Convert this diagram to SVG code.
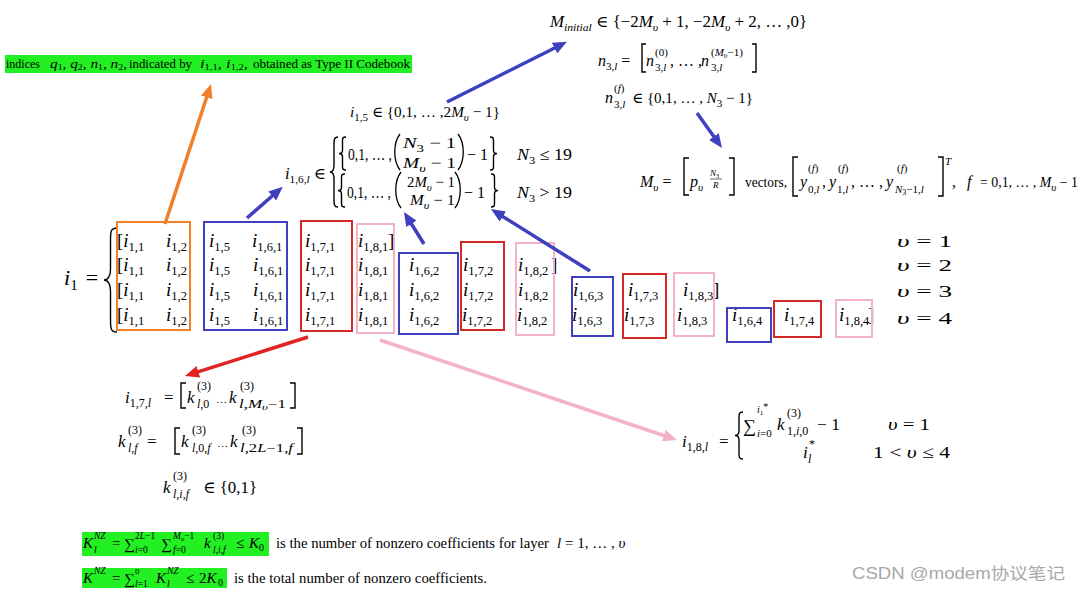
<svg xmlns="http://www.w3.org/2000/svg" width="1082" height="592" viewBox="0 0 1082 592">
<style>
.t{font-family:"Liberation Serif","Times New Roman","DejaVu Serif",serif;fill:#000}
.m{font-size:16px}
.it{font-style:italic}
.s{font-size:11px}
.e{font-size:19px}
.es{font-size:12.5px}
.box{fill:none;stroke-width:2}
.bo{stroke:#F07F2A}.bb{stroke:#3E40BD}.brd{stroke:#D42A2A}.bp{stroke:#F4B2C8}
.ar{fill:none;stroke-width:3.5}
.gr{fill:#22F022}
.wm{font-family:"Liberation Sans","Noto Sans CJK SC",sans-serif;font-size:16px;fill:#a8a8a8}
</style>
<defs>
<path id="lb" d="M10,0 C5,0 5,4 5,12 L5,40 C5,46 3,50 0,50 C3,50 5,54 5,60 L5,88 C5,96 5,100 10,100" fill="none" stroke="#000" stroke-width="1.4" vector-effect="non-scaling-stroke"/>
<path id="lp" d="M6,0 C-1,25 -1,75 6,100" fill="none" stroke="#000" stroke-width="1.3" vector-effect="non-scaling-stroke"/>
<path id="lk" d="M5,0 L0,0 L0,100 L5,100" fill="none" stroke="#000" stroke-width="1.4" vector-effect="non-scaling-stroke"/>
<marker id="ah-o" markerWidth="14" markerHeight="12" refX="3" refY="6" orient="auto" markerUnits="userSpaceOnUse"><path d="M0,0 L14,6 L0,12 Z" fill="#F07F2A"/></marker>
<marker id="ah-b" markerWidth="14" markerHeight="12" refX="3" refY="6" orient="auto" markerUnits="userSpaceOnUse"><path d="M0,0 L14,6 L0,12 Z" fill="#3E40BD"/></marker>
<marker id="ah-r" markerWidth="14" markerHeight="12" refX="3" refY="6" orient="auto" markerUnits="userSpaceOnUse"><path d="M0,0 L14,6 L0,12 Z" fill="#E02424"/></marker>
<marker id="ah-p" markerWidth="14" markerHeight="12" refX="3" refY="6" orient="auto" markerUnits="userSpaceOnUse"><path d="M0,0 L14,6 L0,12 Z" fill="#F4B2C8"/></marker>
</defs>
<rect width="1082" height="592" fill="#fff"/>

<g id="label-codebook">
<rect class="gr" x="5" y="55" width="407" height="18"/>
<text class="t" font-size="12.5" x="6" y="68" textLength="34" lengthAdjust="spacingAndGlyphs">indices</text>
<text class="t" font-size="12.5" x="50" y="68" textLength="77" lengthAdjust="spacingAndGlyphs"><tspan class="it">q</tspan><tspan font-size="8" dy="2">1</tspan><tspan dy="-2">, </tspan><tspan class="it">q</tspan><tspan font-size="8" dy="2">2</tspan><tspan dy="-2">, </tspan><tspan class="it">n</tspan><tspan font-size="8" dy="2">1</tspan><tspan dy="-2">,  </tspan><tspan class="it">n</tspan><tspan font-size="8" dy="2">2</tspan><tspan dy="-2">,</tspan></text>
<text class="t" font-size="12.5" x="129" y="68" textLength="63" lengthAdjust="spacingAndGlyphs">indicated by</text>
<text class="t" font-size="12.5" x="200" y="68" textLength="48" lengthAdjust="spacingAndGlyphs"><tspan class="it">i</tspan><tspan font-size="8" dy="2">1,1</tspan><tspan dy="-2">,  </tspan><tspan class="it">i</tspan><tspan font-size="8" dy="2">1,2</tspan><tspan dy="-2">,</tspan></text>
<text class="t" font-size="12.5" x="253" y="68" textLength="157" lengthAdjust="spacingAndGlyphs">obtained as Type II Codebook</text>
</g>

<g id="m-initial">
<text class="t m" x="550" y="27" textLength="257" lengthAdjust="spacingAndGlyphs"><tspan class="it">M</tspan><tspan class="s it" dy="4">initial</tspan><tspan dy="-4"> ∈ {−2</tspan><tspan class="it">M</tspan><tspan class="s it" dy="4">υ</tspan><tspan dy="-4"> + 1, −2</tspan><tspan class="it">M</tspan><tspan class="s it" dy="4">υ</tspan><tspan dy="-4"> + 2, … ,0}</tspan></text>
</g>

<g id="n3l">
<text class="t m" x="598" y="66"><tspan class="it">n</tspan><tspan class="s" dy="4">3,</tspan><tspan class="s it">l</tspan><tspan dy="-4"> =</tspan></text>
<use href="#lk" transform="translate(642,44) scale(0.8,0.28)"/>
<text class="t m it" x="646" y="66">n</text>
<text class="t s" x="655" y="56">(0)</text>
<text class="t s" x="655" y="71">3,<tspan class="it">l</tspan></text>
<text class="t m" x="670" y="66">, … ,</text>
<text class="t m it" x="701" y="66">n</text>
<text class="t s" x="711" y="56">(<tspan class="it">M</tspan><tspan class="it" font-size="8" dy="2">υ</tspan><tspan dy="-2">−1)</tspan></text>
<text class="t s" x="711" y="71">3,<tspan class="it">l</tspan></text>
<use href="#lk" transform="translate(756,44) scale(-0.8,0.28)"/>
</g>

<g id="n3lf">
<text class="t m it" x="605" y="103">n</text>
<text class="t s" x="614" y="92">(<tspan class="it">f</tspan>)</text>
<text class="t s" x="614" y="108">3,<tspan class="it">l</tspan></text>
<text class="t" font-size="15" x="632" y="103" textLength="121" lengthAdjust="spacingAndGlyphs">∈ {0,1, … , <tspan class="it">N</tspan><tspan class="s" dy="4">3</tspan><tspan dy="-4"> − 1}</tspan></text>
</g>

<g id="mv">
<text class="t m" x="640" y="187"><tspan class="it">M</tspan><tspan class="s it" dy="4">υ</tspan><tspan dy="-4"> =</tspan></text>
<use href="#lk" transform="translate(684,158) scale(1,0.37)"/>
<text class="t m it" x="690" y="187">p</text>
<text class="t s it" x="698" y="191">υ</text>
<text class="t it" font-size="9" x="710" y="176">N<tspan font-size="6" font-style="normal" dy="2">3</tspan></text>
<line x1="710" y1="179" x2="722" y2="179" stroke="#000" stroke-width="0.6"/>
<text class="t it" font-size="9" x="713" y="188">R</text>
<use href="#lk" transform="translate(734,158) scale(-1,0.37)"/>
<text class="t" font-size="15" x="745" y="187" textLength="42" lengthAdjust="spacingAndGlyphs">vectors,</text>
<use href="#lk" transform="translate(793,157) scale(1,0.39)"/>
<text class="t m it" x="800" y="187">y</text>
<text class="t s" x="808" y="172">(<tspan class="it">f</tspan>)</text>
<text class="t s" x="808" y="193">0,<tspan class="it">l</tspan></text>
<text class="t m" x="822" y="187">,</text>
<text class="t m it" x="829" y="187">y</text>
<text class="t s" x="838" y="172">(<tspan class="it">f</tspan>)</text>
<text class="t s" x="837" y="193">1,<tspan class="it">l</tspan></text>
<text class="t m" x="851" y="187">, … ,</text>
<text class="t m it" x="886" y="187">y</text>
<text class="t s" x="897" y="172">(<tspan class="it">f</tspan>)</text>
<text class="t s" x="895" y="193"><tspan class="it">N</tspan><tspan font-size="8" dy="2">3</tspan><tspan dy="-2">−1,</tspan><tspan class="it">l</tspan></text>
<use href="#lk" transform="translate(943,157) scale(-1,0.39)"/>
<text class="t s it" x="945" y="165">T</text>
<text class="t m" x="952" y="187">,</text>
<text class="t m it" x="967" y="187">f</text>
<text class="t" font-size="14" x="980" y="187" textLength="98" lengthAdjust="spacingAndGlyphs">= 0,1, … , <tspan class="it">M</tspan><tspan class="s it" dy="4">υ</tspan><tspan dy="-4"> − 1</tspan></text>
</g>

<g id="i15">
<text class="t" font-size="15.3" x="350" y="117" textLength="150" lengthAdjust="spacingAndGlyphs"><tspan class="it">i</tspan><tspan class="s" dy="4">1,5</tspan><tspan dy="-4"> ∈ {0,1, … ,2</tspan><tspan class="it">M</tspan><tspan class="s it" dy="4">υ</tspan><tspan dy="-4"> − 1}</tspan></text>
</g>

<g id="i16l">
<text class="t m" x="285" y="179" textLength="41" lengthAdjust="spacingAndGlyphs"><tspan class="it">i</tspan><tspan class="s" dy="4">1,6,</tspan><tspan class="s it">l</tspan><tspan dy="-4"> ∈</tspan></text>
<use href="#lb" transform="translate(330,137) scale(0.8,0.7)"/>
<use href="#lb" transform="translate(339,137) scale(0.7,0.33)"/>
<text class="t m" x="348" y="160" textLength="44" lengthAdjust="spacingAndGlyphs">0,1, … ,</text>
<use href="#lp" transform="translate(394,134) scale(1,0.36)"/>
<text class="t" font-size="15" x="403" y="148" textLength="53" lengthAdjust="spacingAndGlyphs"><tspan class="it">N</tspan><tspan class="s" dy="4">3</tspan><tspan dy="-4"> − 1</tspan></text>
<text class="t" font-size="15" x="403" y="168" textLength="53" lengthAdjust="spacingAndGlyphs"><tspan class="it">M</tspan><tspan class="s it" dy="4">υ</tspan><tspan dy="-4"> − 1</tspan></text>
<use href="#lp" transform="translate(464,134) scale(-1,0.36)"/>
<text class="t m" x="467" y="160">− 1</text>
<use href="#lb" transform="translate(497,137) scale(-0.7,0.33)"/>
<text class="t m" x="517" y="160" textLength="55" lengthAdjust="spacingAndGlyphs"><tspan class="it">N</tspan><tspan class="s" dy="4">3</tspan><tspan dy="-4"> ≤ 19</tspan></text>
<use href="#lb" transform="translate(338,174) scale(0.7,0.33)"/>
<text class="t m" x="347" y="198" textLength="44" lengthAdjust="spacingAndGlyphs">0,1, … ,</text>
<use href="#lp" transform="translate(395,172) scale(1,0.36)"/>
<text class="t" font-size="15" x="407" y="187" textLength="48" lengthAdjust="spacingAndGlyphs">2<tspan class="it">M</tspan><tspan class="s it" dy="4">υ</tspan><tspan dy="-4"> − 1</tspan></text>
<text class="t" font-size="15" x="410" y="205" textLength="45" lengthAdjust="spacingAndGlyphs"><tspan class="it">M</tspan><tspan class="s it" dy="4">υ</tspan><tspan dy="-4"> − 1</tspan></text>
<use href="#lp" transform="translate(461,172) scale(-1,0.36)"/>
<text class="t m" x="464" y="198">− 1</text>
<use href="#lb" transform="translate(498,174) scale(-0.7,0.33)"/>
<text class="t m" x="517" y="198" textLength="55" lengthAdjust="spacingAndGlyphs"><tspan class="it">N</tspan><tspan class="s" dy="4">3</tspan><tspan dy="-4"> &gt; 19</tspan></text>
</g>

<g id="matrix">
<text class="t it" x="64" y="285" font-size="22">i<tspan font-style="normal" font-size="15" dy="5">1</tspan><tspan font-style="normal" dy="-5" dx="8">=</tspan></text>
<use href="#lb" transform="translate(104,228) scale(1.3,1.04)"/>
<text class="t e" x="117" y="247">[<tspan class="it">i</tspan><tspan class="es" dy="4">1,1</tspan></text>
<text class="t e" x="166" y="247"><tspan class="it">i</tspan><tspan class="es" dy="4">1,2</tspan></text>
<text class="t e" x="209" y="247"><tspan class="it">i</tspan><tspan class="es" dy="4">1,5</tspan></text>
<text class="t e" x="252" y="247"><tspan class="it">i</tspan><tspan class="es" dy="4">1,6,1</tspan></text>
<text class="t e" x="305" y="247"><tspan class="it">i</tspan><tspan class="es" dy="4">1,7,1</tspan></text>
<text class="t e" x="358" y="247"><tspan class="it">i</tspan><tspan class="es" dy="4">1,8,1</tspan></text>
<text class="t e" x="388" y="247">]</text>

<text class="t e" x="117" y="271">[<tspan class="it">i</tspan><tspan class="es" dy="4">1,1</tspan></text>
<text class="t e" x="166" y="271"><tspan class="it">i</tspan><tspan class="es" dy="4">1,2</tspan></text>
<text class="t e" x="209" y="271"><tspan class="it">i</tspan><tspan class="es" dy="4">1,5</tspan></text>
<text class="t e" x="253" y="271"><tspan class="it">i</tspan><tspan class="es" dy="4">1,6,1</tspan></text>
<text class="t e" x="305" y="271"><tspan class="it">i</tspan><tspan class="es" dy="4">1,7,1</tspan></text>
<text class="t e" x="358" y="271"><tspan class="it">i</tspan><tspan class="es" dy="4">1,8,1</tspan></text>
<text class="t e" x="409" y="271"><tspan class="it">i</tspan><tspan class="es" dy="4">1,6,2</tspan></text>
<text class="t e" x="463" y="271"><tspan class="it">i</tspan><tspan class="es" dy="4">1,7,2</tspan></text>
<text class="t e" x="518" y="271"><tspan class="it">i</tspan><tspan class="es" dy="4">1,8,2</tspan></text>
<text class="t e" x="551" y="271">]</text>

<text class="t e" x="117" y="296">[<tspan class="it">i</tspan><tspan class="es" dy="4">1,1</tspan></text>
<text class="t e" x="166" y="296"><tspan class="it">i</tspan><tspan class="es" dy="4">1,2</tspan></text>
<text class="t e" x="209" y="296"><tspan class="it">i</tspan><tspan class="es" dy="4">1,5</tspan></text>
<text class="t e" x="253" y="296"><tspan class="it">i</tspan><tspan class="es" dy="4">1,6,1</tspan></text>
<text class="t e" x="305" y="296"><tspan class="it">i</tspan><tspan class="es" dy="4">1,7,1</tspan></text>
<text class="t e" x="358" y="296"><tspan class="it">i</tspan><tspan class="es" dy="4">1,8,1</tspan></text>
<text class="t e" x="409" y="296"><tspan class="it">i</tspan><tspan class="es" dy="4">1,6,2</tspan></text>
<text class="t e" x="463" y="296"><tspan class="it">i</tspan><tspan class="es" dy="4">1,7,2</tspan></text>
<text class="t e" x="518" y="296"><tspan class="it">i</tspan><tspan class="es" dy="4">1,8,2</tspan></text>
<text class="t e" x="573" y="296"><tspan class="it">i</tspan><tspan class="es" dy="4">1,6,3</tspan></text>
<text class="t e" x="628" y="296"><tspan class="it">i</tspan><tspan class="es" dy="4">1,7,3</tspan></text>
<text class="t e" x="683" y="296"><tspan class="it">i</tspan><tspan class="es" dy="4">1,8,3</tspan></text>
<text class="t e" x="713" y="296">]</text>

<text class="t e" x="117" y="321">[<tspan class="it">i</tspan><tspan class="es" dy="4">1,1</tspan></text>
<text class="t e" x="166" y="321"><tspan class="it">i</tspan><tspan class="es" dy="4">1,2</tspan></text>
<text class="t e" x="209" y="321"><tspan class="it">i</tspan><tspan class="es" dy="4">1,5</tspan></text>
<text class="t e" x="253" y="321"><tspan class="it">i</tspan><tspan class="es" dy="4">1,6,1</tspan></text>
<text class="t e" x="305" y="321"><tspan class="it">i</tspan><tspan class="es" dy="4">1,7,1</tspan></text>
<text class="t e" x="358" y="321"><tspan class="it">i</tspan><tspan class="es" dy="4">1,8,1</tspan></text>
<text class="t e" x="409" y="321"><tspan class="it">i</tspan><tspan class="es" dy="4">1,6,2</tspan></text>
<text class="t e" x="462" y="321"><tspan class="it">i</tspan><tspan class="es" dy="4">1,7,2</tspan></text>
<text class="t e" x="517" y="321"><tspan class="it">i</tspan><tspan class="es" dy="4">1,8,2</tspan></text>
<text class="t e" x="572" y="321"><tspan class="it">i</tspan><tspan class="es" dy="4">1,6,3</tspan></text>
<text class="t e" x="624" y="321"><tspan class="it">i</tspan><tspan class="es" dy="4">1,7,3</tspan></text>
<text class="t e" x="677" y="321"><tspan class="it">i</tspan><tspan class="es" dy="4">1,8,3</tspan></text>
<text class="t e" x="732" y="321"><tspan class="it">i</tspan><tspan class="es" dy="4">1,6,4</tspan></text>
<text class="t e" x="784" y="321"><tspan class="it">i</tspan><tspan class="es" dy="4">1,7,4</tspan></text>
<text class="t e" x="839" y="321"><tspan class="it">i</tspan><tspan class="es" dy="4">1,8,4</tspan></text>
<text class="t e" x="868" y="321">]</text>

<text class="t" font-size="17" x="897" y="247" textLength="55" lengthAdjust="spacingAndGlyphs"><tspan class="it">υ</tspan> = 1</text>
<text class="t" font-size="17" x="897" y="271" textLength="55" lengthAdjust="spacingAndGlyphs"><tspan class="it">υ</tspan> = 2</text>
<text class="t" font-size="17" x="897" y="297" textLength="55" lengthAdjust="spacingAndGlyphs"><tspan class="it">υ</tspan> = 3</text>
<text class="t" font-size="17" x="897" y="324" textLength="55" lengthAdjust="spacingAndGlyphs"><tspan class="it">υ</tspan> = 4</text>
</g>

<g id="boxes">
<rect class="box bo" x="117" y="222" width="73" height="108"/>
<rect class="box bb" x="204" y="222" width="83" height="108"/>
<rect class="box brd" x="301" y="221" width="51" height="110"/>
<rect class="box bp" x="357" y="224" width="37" height="109"/>
<rect class="box bb" x="399" y="253" width="59" height="81"/>
<rect class="box brd" x="461" y="242" width="43" height="88"/>
<rect class="box bp" x="516" y="243" width="38" height="92"/>
<rect class="box bb" x="572" y="277" width="41" height="59"/>
<rect class="box brd" x="623" y="274" width="43" height="64"/>
<rect class="box bp" x="674" y="273" width="40" height="63"/>
<rect class="box bb" x="727" y="308" width="44" height="34"/>
<rect class="box brd" x="774" y="301" width="47" height="36"/>
<rect class="box bp" x="836" y="300" width="36" height="37"/>
</g>

<g id="i17l">
<text class="t" font-size="17" x="125" y="403"><tspan class="it">i</tspan><tspan font-size="12" dy="4">1,7,</tspan><tspan font-size="12" class="it">l</tspan></text>
<text class="t" font-size="17" x="164" y="403">=</text>
<use href="#lk" transform="translate(181,383) scale(1,0.25)"/>
<text class="t it" font-size="17" x="187" y="403">k</text>
<text class="t" font-size="12" x="197" y="390">(3)</text>
<text class="t it" font-size="12" x="197" y="408">l<tspan font-style="normal">,0</tspan></text>
<text class="t" font-size="11" x="216" y="403">…</text>
<text class="t it" font-size="17" x="229" y="403">k</text>
<text class="t" font-size="12" x="240" y="390">(3)</text>
<text class="t it" font-size="12" x="239" y="408" textLength="47" lengthAdjust="spacingAndGlyphs">l<tspan font-style="normal">,</tspan>M<tspan font-size="9" dy="2">υ</tspan><tspan font-style="normal" dy="-2">−1</tspan></text>
<use href="#lk" transform="translate(295,383) scale(-1,0.25)"/>
</g>

<g id="klf">
<text class="t it" font-size="17" x="118" y="447">k</text>
<text class="t" font-size="12" x="128" y="434">(3)</text>
<text class="t it" font-size="12" x="128" y="452">l,f</text>
<text class="t" font-size="17" x="147" y="447">=</text>
<use href="#lk" transform="translate(175,428) scale(1,0.26)"/>
<text class="t it" font-size="17" x="181" y="447">k</text>
<text class="t" font-size="12" x="192" y="434">(3)</text>
<text class="t it" font-size="12" x="192" y="452">l<tspan font-style="normal">,0,</tspan>f</text>
<text class="t" font-size="11" x="217" y="447">…</text>
<text class="t it" font-size="17" x="230" y="447">k</text>
<text class="t" font-size="12" x="242" y="434">(3)</text>
<text class="t it" font-size="12" x="240" y="452" textLength="53" lengthAdjust="spacingAndGlyphs">l<tspan font-style="normal">,2</tspan>L<tspan font-style="normal">−1,</tspan>f</text>
<use href="#lk" transform="translate(302,428) scale(-1,0.26)"/>
</g>

<g id="klif">
<text class="t it" font-size="17" x="163" y="493">k</text>
<text class="t" font-size="12" x="173" y="480">(3)</text>
<text class="t it" font-size="12" x="173" y="498">l,i,f</text>
<text class="t" font-size="17" x="203" y="493" textLength="54" lengthAdjust="spacingAndGlyphs">∈ {0,1}</text>
</g>

<g id="i18l">
<text class="t" font-size="17" x="682" y="447"><tspan class="it">i</tspan><tspan font-size="12" dy="4">1,8,</tspan><tspan font-size="12" class="it">l</tspan></text>
<text class="t" font-size="17" x="719" y="447">=</text>
<use href="#lb" transform="translate(735,412) scale(0.8,0.47)"/>
<text class="t" font-size="18" x="743" y="432">∑</text>
<text class="t it" font-size="10" x="757" y="413">i<tspan font-size="7" font-style="normal" dy="2">1</tspan><tspan font-style="normal" dy="-5">*</tspan></text>
<text class="t it" font-size="11" x="757" y="437">i<tspan font-style="normal">=0</tspan></text>
<text class="t it" font-size="17" x="777" y="430">k</text>
<text class="t" font-size="12" x="787" y="417">(3)</text>
<text class="t" font-size="12" x="787" y="435">1,<tspan class="it">i</tspan>,0</text>
<text class="t" font-size="17" x="817" y="430" textLength="23" lengthAdjust="spacingAndGlyphs">− 1</text>
<text class="t" font-size="17" x="888" y="430" textLength="42" lengthAdjust="spacingAndGlyphs"><tspan class="it">υ</tspan> = 1</text>
<text class="t it" font-size="17" x="803" y="458">i</text>
<text class="t" font-size="12" x="809" y="448">*</text>
<text class="t it" font-size="12" x="808" y="463">l</text>
<text class="t" font-size="17" x="873" y="458" textLength="77" lengthAdjust="spacingAndGlyphs">1 &lt; <tspan class="it">υ</tspan> ≤ 4</text>
</g>

<g id="knz-layer">
<rect class="gr" x="82" y="532" width="187" height="24"/>
<text class="t it" font-size="15" x="83" y="548">K</text>
<text class="t it" font-size="9.5" x="94" y="539">NZ</text>
<text class="t it" font-size="9.5" x="94" y="553">l</text>
<text class="t" font-size="15" x="112" y="548">=</text>
<text class="t" font-size="15" x="124" y="549">∑</text>
<text class="t" font-size="9.5" x="135" y="539">2<tspan class="it">L</tspan>−1</text>
<text class="t" font-size="9.5" x="135" y="553"><tspan class="it">i</tspan>=0</text>
<text class="t" font-size="15" x="161" y="549">∑</text>
<text class="t" font-size="9.5" x="173" y="539"><tspan class="it">M</tspan><tspan class="it" font-size="7" dy="2">υ</tspan><tspan dy="-2">−1</tspan></text>
<text class="t" font-size="9.5" x="173" y="553"><tspan class="it">f</tspan>=0</text>
<text class="t it" font-size="15" x="204" y="548">k</text>
<text class="t" font-size="9.5" x="213" y="539">(3)</text>
<text class="t it" font-size="9.5" x="213" y="553">l,i,f</text>
<text class="t" font-size="15" x="236" y="548">≤</text>
<text class="t it" font-size="15" x="249" y="548">K</text>
<text class="t" font-size="10" x="259" y="551">0</text>
<text class="t" font-size="14.7" x="276" y="548" textLength="273" lengthAdjust="spacingAndGlyphs">is the number of nonzero coefficients for layer</text>
<text class="t" font-size="15" x="557" y="548"><tspan class="it">l</tspan> = 1, … , <tspan class="it">υ</tspan></text>
</g>

<g id="knz-total">
<rect class="gr" x="82" y="568" width="145" height="20"/>
<text class="t it" font-size="15" x="83" y="583">K</text>
<text class="t it" font-size="9.5" x="94" y="574">NZ</text>
<text class="t" font-size="15" x="112" y="583">=</text>
<text class="t" font-size="15" x="124" y="584">∑</text>
<text class="t it" font-size="9.5" x="135" y="574">υ</text>
<text class="t" font-size="9.5" x="135" y="587"><tspan class="it">l</tspan>=1</text>
<text class="t it" font-size="15" x="156" y="583">K</text>
<text class="t it" font-size="9.5" x="167" y="574">NZ</text>
<text class="t it" font-size="9.5" x="167" y="587">l</text>
<text class="t" font-size="15" x="186" y="583">≤</text>
<text class="t" font-size="15" x="199" y="583">2<tspan class="it">K</tspan></text>
<text class="t" font-size="10" x="218" y="586">0</text>
<text class="t" font-size="14.7" x="234" y="583" textLength="253" lengthAdjust="spacingAndGlyphs">is the total number of nonzero coefficients.</text>
</g>

<g id="connectors">
<line class="ar" stroke="#F07F2A" x1="165" y1="224" x2="207.6" y2="94.5" marker-end="url(#ah-o)"/>
<line class="ar" stroke="#3E40BD" x1="447" y1="102" x2="557.1" y2="46.8" marker-end="url(#ah-b)"/>
<line class="ar" stroke="#3E40BD" x1="697" y1="113" x2="715.6" y2="139" marker-end="url(#ah-b)"/>
<line class="ar" stroke="#3E40BD" x1="247" y1="218" x2="274.5" y2="194" marker-end="url(#ah-b)"/>
<line class="ar" stroke="#3E40BD" x1="424" y1="244" x2="409.8" y2="221.3" marker-end="url(#ah-b)"/>
<line class="ar" stroke="#3E40BD" x1="590" y1="271" x2="500.3" y2="214.9" marker-end="url(#ah-b)"/>
<line class="ar" stroke="#E02424" x1="308" y1="337" x2="195.5" y2="372.7" marker-end="url(#ah-r)"/>
<line class="ar" stroke="#F4B2C8" x1="380" y1="340" x2="666.6" y2="436.5" marker-end="url(#ah-p)"/>
</g>

<text class="wm" x="852" y="579" textLength="213" lengthAdjust="spacingAndGlyphs">CSDN @modem协议笔记</text>
</svg>
